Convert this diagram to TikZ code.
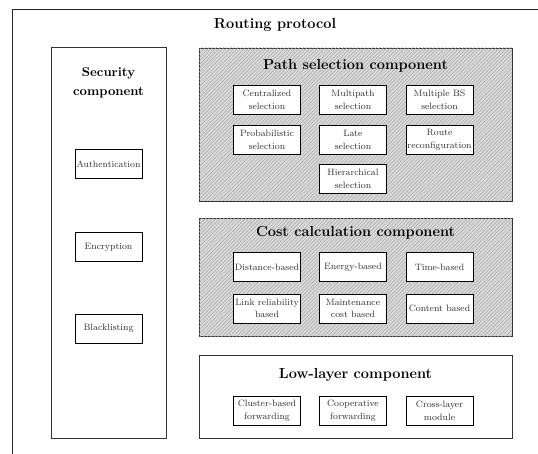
\documentclass[tikz,border=0pt]{standalone}
\usetikzlibrary{patterns}

\tikzset{
	compbox/.style={draw=black!80, line width=0.7pt, minimum width=9.077cm},
	hatched/.style={fill=gray!28, postaction={pattern=north east lines, pattern color=gray!70}},
	subbox/.style={draw, line width=0.8pt, fill=white, minimum width=1.943cm, minimum height=0.841cm,
		inner sep=1pt, align=center, font=\fontsize{7.6}{10.5}\selectfont, text=black!80},
	title/.style={font=\large\bfseries}
}

\begin{document}
\begin{tikzpicture}
			\useasboundingbox (0,0) rectangle (15.602,13.137);
			\clip (0,0) rectangle (15.602,13.137);

			% outer frame, runs off the page on the right and at the bottom
			\draw[line width=0.8pt, black!85] (0.348,-1) |- (17,12.876);
			\node[title] (routing) at (7.975,12.412) {Routing protocol};

			% security column
			\node[draw=black!80, line width=0.7pt, minimum width=3.335cm, minimum height=11.339cm] (security) at (3.147,6.105) {};
			\node[align=center, font=\fontsize{10.6}{15.5}\selectfont\bfseries] (sectitle) at (3.147,10.745) {Security\\component};
			\foreach \n/\y/\txt in {auth/8.367/Authentication, enc/5.960/Encryption, black/3.611/Blacklisting} {
				\node[subbox] (\n) at (3.147,\y) {\txt};
			};

			% component blocks
			\node[compbox, hatched, minimum height=4.437cm] (path) at (10.31,9.527) {};
			\node[compbox, hatched, minimum height=3.422cm] (cost) at (10.31,5.104) {};
			\node[compbox, minimum height=2.407cm] (low) at (10.31,1.639) {};

			\node[title] (pathtitle) at (10.31,11.223) {Path selection component};
			\node[title] (costtitle) at (10.31,6.371) {Cost calculation component};
			\node[title] (lowtitle) at (10.31,2.262) {Low-layer component};

			\foreach \n/\x/\y/\txt in {
				central/7.743/10.237/{Centralized\\selection},
				multi/10.237/10.237/{Multipath\\selection},
				multibs/12.746/10.237/{Multiple BS\\selection},
				prob/7.743/9.086/{Probabilistic\\selection},
				late/10.237/9.086/{Late\\selection},
				reconf/12.746/9.086/{Route\\reconfiguration},
				hier/10.237/7.946/{Hierarchical\\selection},
				dist/7.743/5.394/{Distance-based},
				energy/10.237/5.394/{Energy-based},
				time/12.746/5.394/{Time-based},
				link/7.743/4.191/{Link reliability\\based},
				maint/10.237/4.191/{Maintenance\\cost based},
				content/12.746/4.191/{Content based},
				cluster/7.743/1.227/{Cluster-based\\forwarding},
				coop/10.237/1.227/{Cooperative\\forwarding},
				cross/12.746/1.227/{Cross-layer\\module}} {
				\node[subbox] (\n) at (\x,\y) {\txt};
			};
		\end{tikzpicture}
\end{document}
